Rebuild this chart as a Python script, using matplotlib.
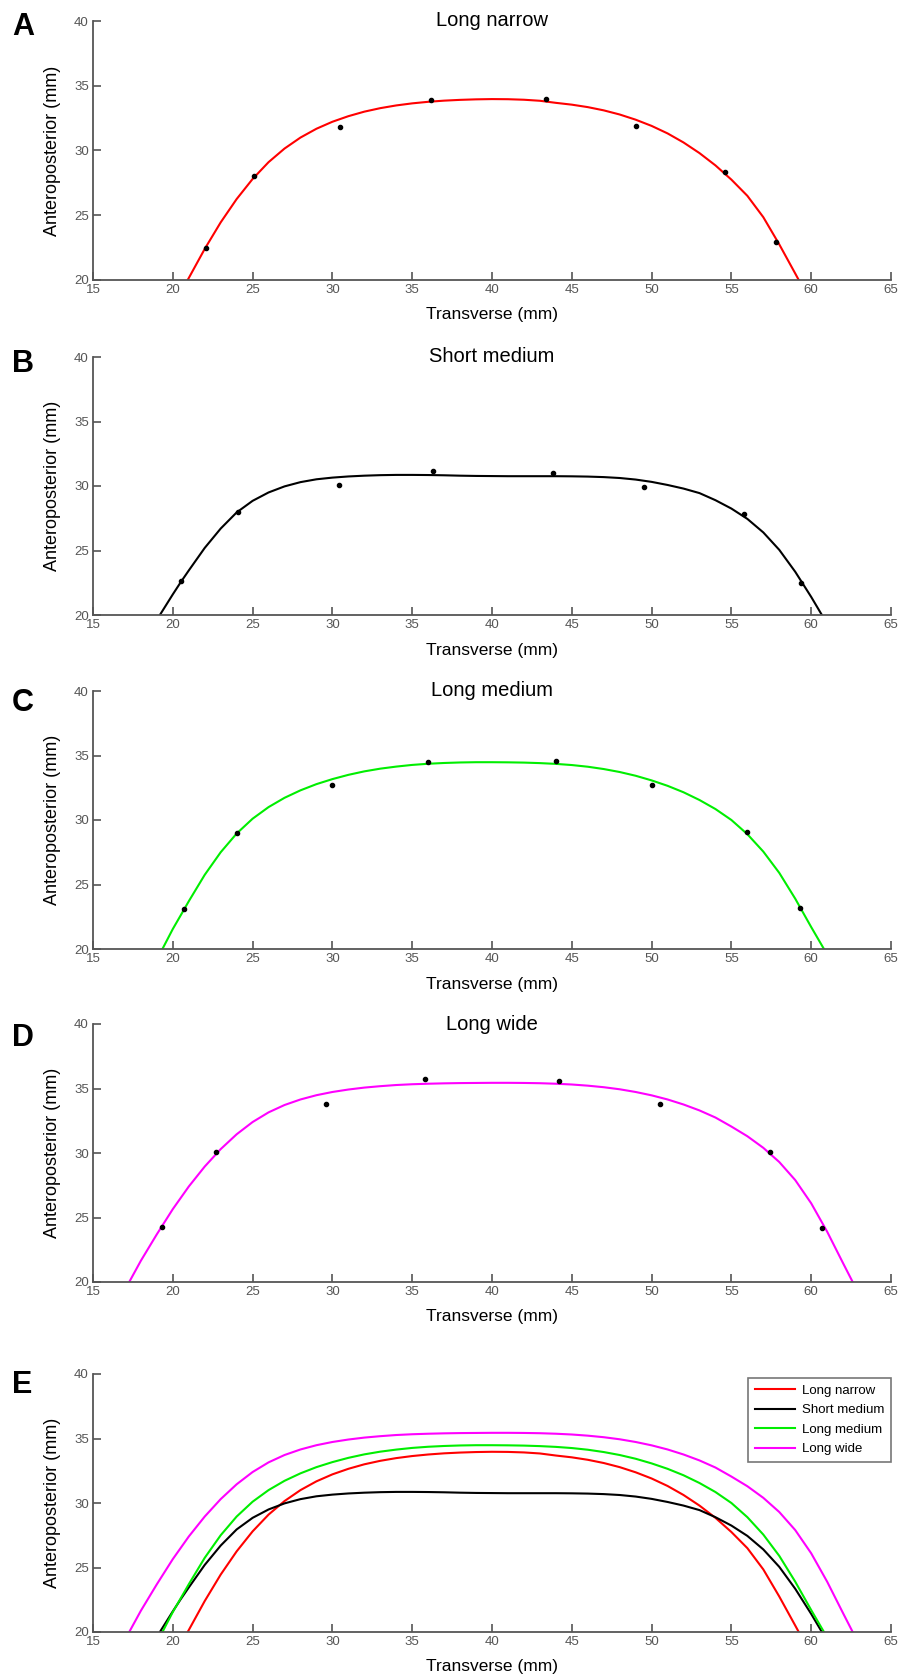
import matplotlib
matplotlib.use("Agg")
import matplotlib.pyplot as plt

plt.rcParams['font.family'] = ['Liberation Sans', 'DejaVu Sans']

# ---------------- data ----------------
panel_titles = ["Long narrow", "Short medium", "Long medium", "Long wide"]
panel_letters = ["A", "B", "C", "D", "E"]
curve_colors = ["#ff0000", "#000000", "#00ee00", "#ff00ff"]

# measured points (black dots)
pts_x_narrow = [22.1, 25.1, 30.5, 36.2, 43.4, 49.0, 54.6, 57.8]
pts_y_narrow = [22.5, 28.05, 31.8, 33.9, 33.95, 31.9, 28.35, 22.9]
pts_x_short = [20.5, 24.1, 30.4, 36.3, 43.85, 49.55, 55.8, 59.35]
pts_y_short = [22.6, 28.0, 30.05, 31.15, 31.0, 29.9, 27.85, 22.5]
pts_x_lmed = [20.7, 24.0, 30.0, 36.0, 44.0, 50.0, 56.0, 59.3]
pts_y_lmed = [23.1, 29.0, 32.7, 34.5, 34.55, 32.7, 29.1, 23.2]
pts_x_wide = [19.3, 22.7, 29.6, 35.8, 44.2, 50.5, 57.4, 60.7]
pts_y_wide = [24.3, 30.1, 33.8, 35.7, 35.6, 33.8, 30.1, 24.2]

# fitted curves
fit_x_narrow = [20.93, 21, 22, 23, 24, 25, 26, 27, 28, 29, 30, 31, 32, 33, 34, 35, 36, 37, 38, 39,
                40, 41, 42, 43, 44, 45, 46, 47, 48, 49, 50, 51, 52, 53, 54, 55, 56, 57, 58, 59, 59.22]
fit_y_narrow = [20.0, 20.15, 22.4, 24.45, 26.25, 27.8, 29.1, 30.15, 31.0, 31.68, 32.22, 32.65, 33.0,
                33.27, 33.48, 33.64, 33.76, 33.85, 33.91, 33.95, 33.97, 33.96, 33.92, 33.84, 33.68,
                33.54, 33.35, 33.1, 32.78, 32.38, 31.9, 31.32, 30.62, 29.8, 28.85, 27.75, 26.5,
                24.85, 22.75, 20.5, 20.0]

fit_x_short = [19.19, 20, 20.5, 21, 22, 23, 24, 25, 26, 27, 28, 29, 30, 31, 32, 33, 34, 35, 36, 37,
               38, 39, 40, 41, 42, 43, 44, 45, 46, 47, 48, 49, 50, 51, 52, 53, 54, 55, 56, 57, 58,
               59, 60, 60.67]
fit_y_short = [20.0, 21.6, 22.55, 23.45, 25.2, 26.7, 27.95, 28.85, 29.5, 29.97, 30.3, 30.52, 30.65,
               30.74, 30.8, 30.84, 30.86, 30.86, 30.85, 30.83, 30.8, 30.78, 30.77, 30.76, 30.76,
               30.76, 30.76, 30.75, 30.73, 30.69, 30.62, 30.5, 30.32, 30.08, 29.8, 29.45, 28.9,
               28.25, 27.45, 26.4, 25.05, 23.35, 21.4, 20.0]

fit_x_lmed = [19.35, 20, 20.7, 21, 22, 23, 24, 25, 26, 27, 28, 29, 30, 31, 32, 33, 34, 35, 36, 37, 38,
              39, 40, 41, 42, 43, 44, 45, 46, 47, 48, 49, 50, 51, 52, 53, 54, 55, 56, 57, 58, 59, 60,
              60.8]
fit_y_lmed = [20.0, 21.55, 23.05, 23.7, 25.75, 27.5, 28.95, 30.1, 31.0, 31.72, 32.3, 32.78, 33.17,
              33.5, 33.77, 33.98, 34.14, 34.27, 34.36, 34.42, 34.46, 34.48, 34.48, 34.47, 34.45,
              34.41, 34.35, 34.26, 34.13, 33.95, 33.72, 33.43, 33.07, 32.65, 32.15, 31.55, 30.85,
              30.0, 28.9, 27.55, 25.9, 23.9, 21.7, 20.0]

fit_x_wide = [17.27, 18, 19, 20, 21, 22, 23, 24, 25, 26, 27, 28, 29, 30, 31, 32, 33, 34, 35, 36, 37,
              38, 39, 40, 41, 42, 43, 44, 45, 46, 47, 48, 49, 50, 51, 52, 53, 54, 55, 56, 57, 58, 59,
              60, 61, 62, 62.6]
fit_y_wide = [20.0, 21.65, 23.7, 25.65, 27.4, 28.95, 30.3, 31.45, 32.4, 33.15, 33.72, 34.15, 34.48,
              34.73, 34.92, 35.07, 35.18, 35.27, 35.33, 35.37, 35.4, 35.42, 35.43, 35.44, 35.44,
              35.43, 35.41, 35.37, 35.31, 35.22, 35.1, 34.94, 34.73, 34.47, 34.15, 33.76, 33.3,
              32.75, 32.05, 31.3, 30.4, 29.3, 27.9, 26.1, 23.9, 21.45, 20.0]

x_ticks = [15, 20, 25, 30, 35, 40, 45, 50, 55, 60, 65]
y_ticks = [20, 25, 30, 35, 40]
x_label = "Transverse (mm)"
y_label = "Anteroposterior (mm)"

pts = [(pts_x_narrow, pts_y_narrow), (pts_x_short, pts_y_short),
       (pts_x_lmed, pts_y_lmed), (pts_x_wide, pts_y_wide)]
fits = [(fit_x_narrow, fit_y_narrow), (fit_x_short, fit_y_short),
        (fit_x_lmed, fit_y_lmed), (fit_x_wide, fit_y_wide)]

# ---------------- layout ----------------
W, H = 901, 1680
fig = plt.figure(figsize=(W / 100, H / 100), dpi=100)
ax_left, ax_right = 93, 891
tops = [21, 357, 691, 1024, 1374]
bottoms = [280, 615, 949, 1282, 1632]
letter_tops = [12, 349, 688, 1023, 1370]
gray = "#555555"

axes = []
for i in range(5):
    ax = fig.add_axes([ax_left / W, 1 - bottoms[i] / H, (ax_right - ax_left) / W,
                       (bottoms[i] - tops[i]) / H])
    axes.append(ax)
    ax.set_xlim(15, 65)
    ax.set_ylim(20, 40)
    ax.set_xticks(x_ticks)
    ax.set_yticks(y_ticks)
    ax.tick_params(direction="in", length=6, width=1.2, color=gray, labelcolor=gray,
                   labelsize=9.5, pad=3)
    for s in ["top", "right"]:
        ax.spines[s].set_visible(False)
    for s in ["left", "bottom"]:
        ax.spines[s].set_color(gray)
        ax.spines[s].set_linewidth(1.3)
    # labels
    ymid = (tops[i] + bottoms[i]) / 2
    fig.text(53 / W, 1 - ymid / H, y_label, rotation=90, ha="center", va="center",
             fontsize=13, color="black")
    fig.text(492 / W, 1 - (bottoms[i] + 35) / H, x_label, ha="center", va="center",
             fontsize=12.5, color="black")
    fig.text(12 / W, 1 - letter_tops[i] / H, panel_letters[i], ha="left", va="top",
             fontsize=22, fontweight="bold", color="black")

for i in range(4):
    ax = axes[i]
    fx, fy = fits[i]
    ax.plot(fx, fy, color=curve_colors[i], lw=1.5, zorder=2)
    px, py = pts[i]
    ax.plot(px, py, "o", color="black", ms=3, zorder=3)
    ax.text(0.5, 1.0, panel_titles[i], transform=ax.transAxes, ha="center", va="center",
            fontsize=14.5, color="black")

axE = axes[4]
for i in range(4):
    fx, fy = fits[i]
    axE.plot(fx, fy, color=curve_colors[i], lw=1.5, label=panel_titles[i])
leg = axE.legend(loc="upper right", fontsize=9.5, frameon=True, fancybox=False,
                 handlelength=3.1, borderpad=0.5, labelspacing=0.55, handletextpad=0.5,
                 bbox_to_anchor=(1.0, 0.985), borderaxespad=0.0)
leg.get_frame().set_edgecolor(gray)
leg.get_frame().set_linewidth(1.2)

fig.savefig("out.png", dpi=100)
